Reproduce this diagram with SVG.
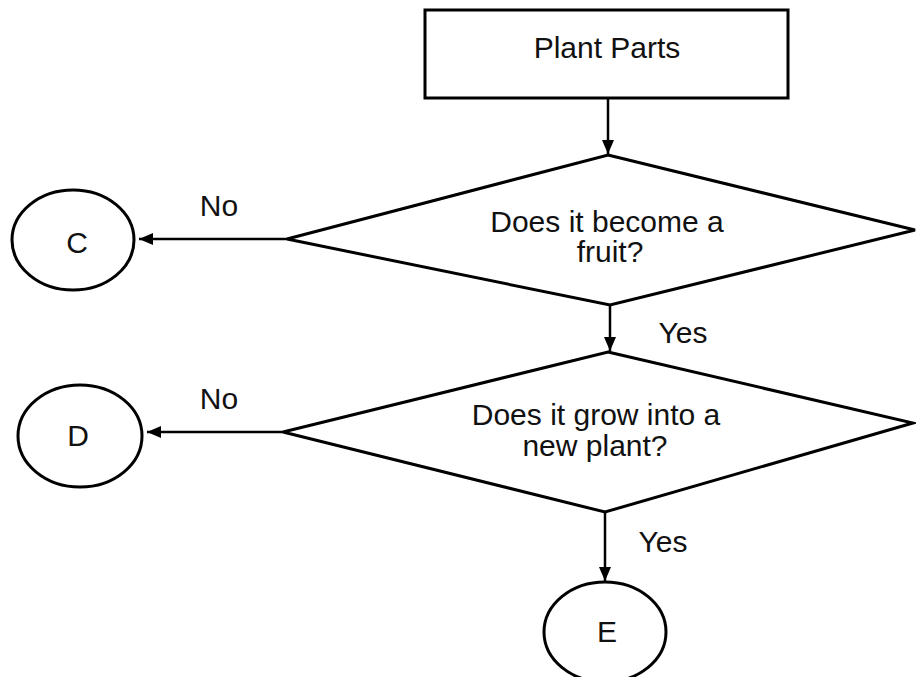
<svg xmlns="http://www.w3.org/2000/svg" width="916" height="677" viewBox="0 0 916 677">
<defs>
<marker id="arr" viewBox="0 0 14 12" refX="14" refY="6" markerWidth="14" markerHeight="12" markerUnits="userSpaceOnUse" orient="auto">
<path d="M0,0 L14,6 L0,12 Z" fill="#000"/>
</marker>
</defs>
<style>
.shape{fill:#fff;stroke:#000;stroke-width:3}
.edge{fill:none;stroke:#000;stroke-width:2.5;marker-end:url(#arr)}
text{font-family:"Liberation Sans",Arial,sans-serif;font-size:30px;fill:#111;text-anchor:middle}
</style>
<rect width="916" height="677" fill="#fff"/>
<g id="connectors">
<line class="edge" x1="608" y1="98" x2="608" y2="154"/>
<line class="edge" x1="287" y1="239" x2="139" y2="239"/>
<line class="edge" x1="610" y1="305" x2="610" y2="351"/>
<line class="edge" x1="283" y1="432" x2="147" y2="432"/>
<line class="edge" x1="605" y1="512" x2="605" y2="581"/>
<text x="219" y="216">No</text>
<text x="683" y="343">Yes</text>
<text x="219" y="409">No</text>
<text x="663" y="552">Yes</text>
</g>
<g id="start">
<rect class="shape" x="425" y="10" width="363" height="88"/>
<text x="607" y="58">Plant Parts</text>
</g>
<g id="q1">
<polygon class="shape" points="608,155 915,230 610,305 287,239"/>
<text x="607" y="232">Does it become a</text>
<text x="610" y="262">fruit?</text>
</g>
<g id="q2">
<polygon class="shape" points="608,352 913,423 605,512 283,432"/>
<text x="596" y="425">Does it grow into a</text>
<text x="595" y="456">new plant?</text>
</g>
<g id="C">
<ellipse class="shape" cx="73" cy="240" rx="61" ry="50"/>
<text x="77" y="253">C</text>
</g>
<g id="D">
<ellipse class="shape" cx="80" cy="436" rx="62" ry="51"/>
<text x="78" y="446">D</text>
</g>
<g id="E">
<ellipse class="shape" cx="605" cy="632" rx="61" ry="50"/>
<text x="607" y="642">E</text>
</g>
</svg>
